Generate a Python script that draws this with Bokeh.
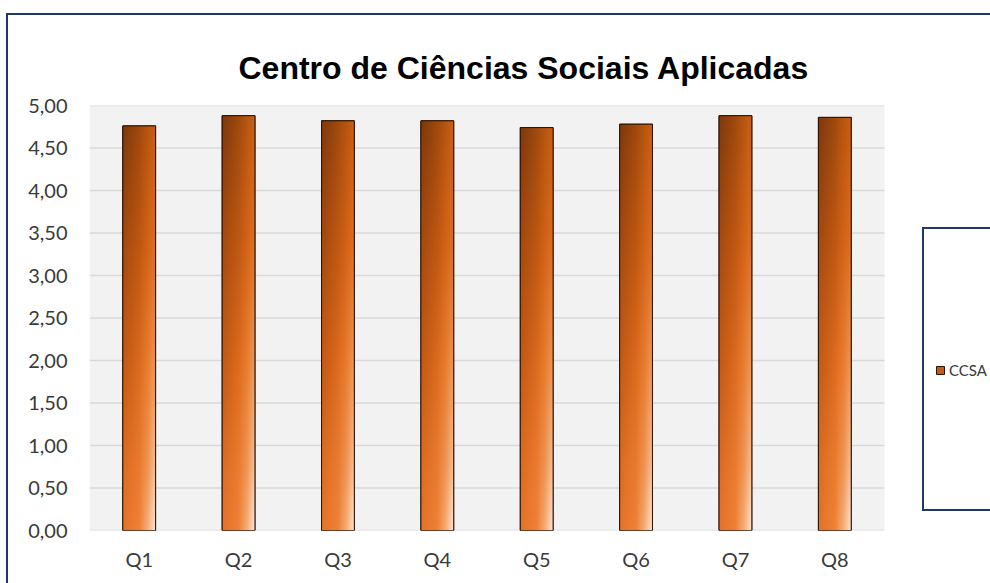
import numpy as np
from bokeh.plotting import figure
from bokeh.models import (Range1d, FixedTicker, CustomJSTickFormatter, Legend, LegendItem,
                          InlineStyleSheet)
from bokeh.embed import file_html
from bokeh.resources import INLINE

# ---------------- data ----------------
title_text = "Centro de Ciências Sociais Aplicadas"
categories = ["Q1", "Q2", "Q3", "Q4", "Q5", "Q6", "Q7", "Q8"]
values = [4.76, 4.88, 4.82, 4.82, 4.74, 4.78, 4.88, 4.86]
series_name = "CCSA"
y_ticks = [0.0, 0.5, 1.0, 1.5, 2.0, 2.5, 3.0, 3.5, 4.0, 4.5, 5.0]

n = len(categories)
positions = list(range(1, n + 1))
bar_width = 0.33

# ---------------- gradient fill for bars ----------------
grid_rows = [0.0, 0.3, 0.6, 0.85, 1.0]          # fraction from top of bar
grid_cols = [0.0, 0.5, 0.75, 1.0]               # fraction from left of bar
grid_colors = [
    ["#7f390b", "#a04a0f", "#b8560f", "#cc5f14"],
    ["#a54a0f", "#c05812", "#d36418", "#df7024"],
    ["#c45a14", "#dd6c20", "#ea7e30", "#f09a5a"],
    ["#dc6c22", "#ea7c30", "#f19656", "#f8c49e"],
    ["#e5732a", "#ef8238", "#f7b07a", "#fde9da"],
]


def hex2rgb(h):
    h = h.lstrip("#")
    return [int(h[i:i + 2], 16) for i in (0, 2, 4)]


G = np.array([[hex2rgb(c) for c in row] for row in grid_colors], dtype=float)
IH, IW = 256, 48
yf = np.linspace(0, 1, IH)          # from top
xf = np.linspace(0, 1, IW)
tmp = np.empty((len(grid_rows), IW, 3))
for r in range(len(grid_rows)):
    for c in range(3):
        tmp[r, :, c] = np.interp(xf, grid_cols, G[r, :, c])
rgb = np.empty((IH, IW, 3))
for j in range(IW):
    for c in range(3):
        rgb[:, j, c] = np.interp(yf, grid_rows, tmp[:, j, c])
rgb = rgb[::-1]  # row 0 of image is at the bottom
img = np.empty((IH, IW), dtype=np.uint32)
view = img.view(dtype=np.uint8).reshape((IH, IW, 4))
view[:, :, 0:3] = np.clip(rgb, 0, 255).astype(np.uint8)
view[:, :, 3] = 255

# ---------------- layout ----------------
W, H = 990, 583
LEFT, RIGHT_PLOT, TOP, BOTTOM = 89, 884, 105, 530    # pixel box of the grey plot area
x_lo = 0.5
x_hi_plot = n + 0.5
# the frame runs to the right edge so that the legend (outside the grey area) is not clipped
x_hi = x_lo + (x_hi_plot - x_lo) * (W - LEFT) / (RIGHT_PLOT - LEFT)

p = figure(width=W, height=H, output_backend="svg", toolbar_location=None,
           x_range=Range1d(x_lo, x_hi), y_range=Range1d(y_ticks[0], y_ticks[-1]),
           min_border_left=LEFT, min_border_right=0, min_border_top=TOP,
           min_border_bottom=H - BOTTOM)
p.background_fill_color = "white"
p.border_fill_color = "white"
p.outline_line_color = None

p.title.text = title_text
p.title.text_font = "Liberation Sans"
p.title.text_font_style = "bold"
p.title.text_font_size = "32px"
p.title.text_color = "black"
p.title.align = "left"
p.title.offset = 149
p.title.standoff = 39

# axes
p.xaxis.ticker = FixedTicker(ticks=positions)
p.xaxis.major_label_overrides = {pos: lab for pos, lab in zip(positions, categories)}
p.yaxis.ticker = FixedTicker(ticks=y_ticks)
p.yaxis.formatter = CustomJSTickFormatter(code="return tick.toFixed(2).replace('.', ',');")
for ax in (p.xaxis[0], p.yaxis[0]):
    ax.axis_line_color = None
    ax.major_tick_line_color = None
    ax.minor_tick_line_color = None
    ax.major_tick_out = 0
    ax.major_tick_in = 0
    ax.major_label_text_font = "Lato"
    ax.major_label_text_font_size = "20px"
    ax.major_label_text_color = "#3a3a3a"
p.yaxis.major_label_standoff = 22
p.xaxis.major_label_standoff = 16

p.xgrid.visible = False
p.ygrid.visible = False

# grey plot area and its horizontal gridlines
p.quad(left=[x_lo], right=[x_hi_plot], bottom=[y_ticks[0]], top=[y_ticks[-1]],
       fill_color="#f2f2f2", line_color=None, level="underlay")
p.segment(x0=[x_lo] * len(y_ticks), x1=[x_hi_plot] * len(y_ticks), y0=y_ticks, y1=y_ticks,
          line_color="#d9d9d9", line_width=1.5, level="underlay")

# bars
r_fill = p.vbar(x=positions, top=values, bottom=0, width=bar_width,
                fill_color="#c55a11", line_color="#2a1204", line_width=1)
p.image_rgba(image=[img] * n, x=[x - bar_width / 2 for x in positions], y=[0] * n,
             dw=[bar_width] * n, dh=values)
p.vbar(x=positions, top=values, bottom=0, width=bar_width,
       fill_color=None, line_color="#2a1204", line_width=1)

# legend
legend = Legend(items=[LegendItem(label=series_name, renderers=[r_fill])],
                location=(846, 151), orientation="vertical",
                border_line_color=None, background_fill_alpha=0,
                padding=0, margin=0, spacing=0,
                glyph_width=10, glyph_height=10, label_standoff=4,
                label_text_font="Lato", label_text_font_size="15px",
                label_text_color="#3a3a3a", label_height=10)
p.add_layout(legend)

# chart frame and legend frame (drawn by the page's stylesheet)
frame_css = InlineStyleSheet(css="""
:host { position: relative; }
:host::before {
  content: ""; position: absolute; left: 6px; top: 13px; right: 0; bottom: 0;
  border: 2px solid #1f3864; border-right: none; border-bottom: none;
  pointer-events: none; z-index: 10;
}
:host::after {
  content: ""; position: absolute; left: 922px; top: 227px; right: 0; height: 280px;
  border: 2px solid #1f3864; border-right: none;
  pointer-events: none; z-index: 10;
}
""")
p.stylesheets = [frame_css]

open("out.html", "w").write(file_html(p, INLINE))
